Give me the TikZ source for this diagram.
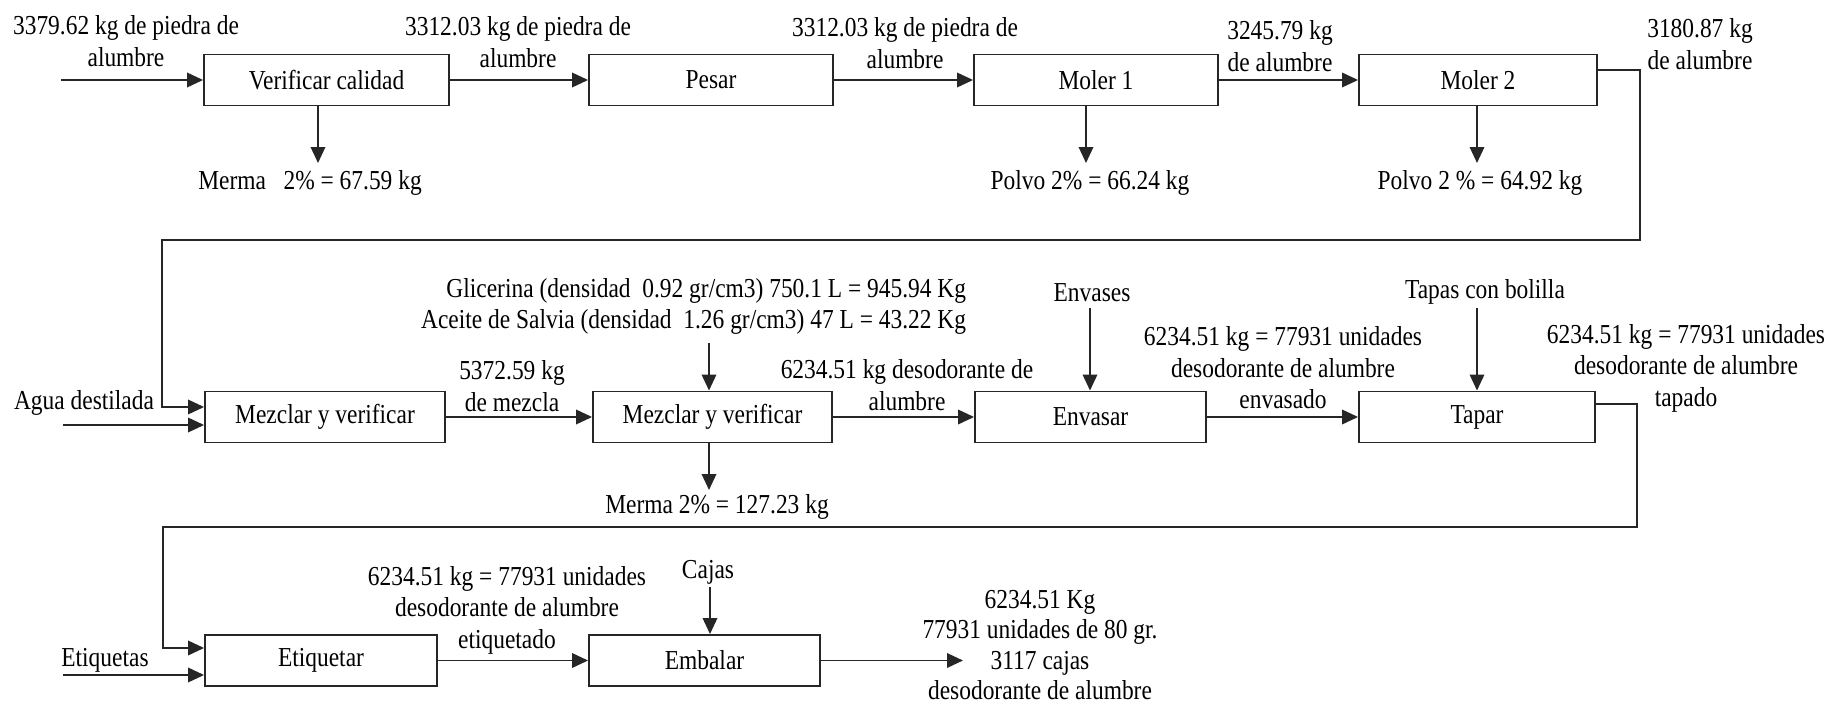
\documentclass[tikz,border=0pt]{standalone}
\usepackage{fontspec}
\setmainfont{Liberation Serif}[FakeStretch=0.855]
\usetikzlibrary{arrows.meta}

\begin{document}
\begin{tikzpicture}[x=0.02cm,y=-0.02cm,line width=1.1pt,draw=black!85,
	font=\fontsize{15.6}{17.9}\selectfont,
	proceso/.style={draw,minimum height=1.02cm,inner sep=0pt},
	flecha/.style={-{Triangle[length=0.32cm,width=0.29cm]}},
	texto/.style={align=center,inner sep=0pt}]
	\useasboundingbox (0,0) rectangle (1840,706);
	% fila 1
	\node[proceso,minimum width=4.9cm] (verif) at (326.5,80) {Verificar calidad};
	\node[proceso,minimum width=4.88cm] (pesar) at (711,80) {Pesar};
	\node[proceso,minimum width=4.88cm] (moler1) at (1096,80) {Moler 1};
	\node[proceso,minimum width=4.76cm] (moler2) at (1478,80) {Moler 2};
	\node[texto] (e1) at (126,41) {3379.62 kg de piedra de\\alumbre};
	\node[texto] (e2) at (518,42) {3312.03 kg de piedra de\\alumbre};
	\node[texto] (e3) at (905,43) {3312.03 kg de piedra de\\alumbre};
	\node[texto] (e4) at (1280,46) {3245.79 kg\\de alumbre};
	\node[texto] (e5) at (1700,44) {3180.87 kg\\de alumbre};
	\node[texto] (merma1) at (310,183) {Merma\ \ \ 2\% = 67.59 kg};
	\node[texto] (polvo1) at (1090,183) {Polvo 2\% = 66.24 kg};
	\node[texto] (polvo2) at (1480,183) {Polvo 2 \% = 64.92 kg};
	\coordinate (in1) at (61,80);
	\coordinate (m1) at (318,163);
	\coordinate (p1) at (1086,163);
	\coordinate (p2) at (1477,163);
	\draw[flecha] (in1)--(verif.west);
	\draw[flecha] (verif)--(pesar);
	\draw[flecha] (pesar)--(moler1);
	\draw[flecha] (moler1)--(moler2);
	\draw[flecha] (verif.south -| m1)--(m1);
	\draw[flecha] (moler1.south -| p1)--(p1);
	\draw[flecha] (moler2.south -| p2)--(p2);
	% fila 2
	\node[proceso,minimum width=4.8cm] (mezcla1) at (325,417) {Mezclar y verificar};
	\node[proceso,minimum width=4.78cm] (mezcla2) at (712.5,417) {Mezclar y verificar};
	\node[proceso,minimum width=4.62cm] (envasar) at (1090.5,417) {Envasar};
	\node[proceso,minimum width=4.72cm] (tapar) at (1477,417) {Tapar};
	\node[texto] (agua) at (84,403) {Agua destilada};
	\node[texto] (e6) at (512,386) {5372.59 kg\\de mezcla};
	\node[texto,align=right,anchor=east] (aditivos) at (967,306.5) {Glicerina (densidad\ \ 0.92 gr/cm3) 750.1 L = 945.94 Kg\\Aceite de Salvia (densidad\ \ 1.26 gr/cm3) 47 L = 43.22 Kg};
	\node[texto] (e7) at (907,385) {6234.51 kg desodorante de\\alumbre};
	\node[texto] (envases) at (1092,293) {Envases};
	\node[texto] (e8) at (1283,368) {6234.51 kg = 77931 unidades\\desodorante de alumbre\\envasado};
	\node[texto] (tapas) at (1485,292) {Tapas con bolilla};
	\node[texto] (e9) at (1686,368) {6234.51 kg = 77931 unidades\\desodorante de alumbre\\tapado};
	\node[texto] (merma2) at (717,507) {Merma 2\% = 127.23 kg};
	\coordinate (g1) at (1640,240);
	\coordinate (g2) at (162,240);
	\coordinate (in2) at (63,425);
	\coordinate (a1) at (709,343);
	\coordinate (m2) at (709,490);
	\coordinate (b1) at (1090,308);
	\coordinate (b2) at (1477,308);
	\draw[flecha] ([yshift=0.2cm]moler2.east) -| (g1)--(g2) |- ([yshift=0.2cm]mezcla1.west);
	\draw[flecha] (in2)--(in2 -| mezcla1.west);
	\draw[flecha] (mezcla1)--(mezcla2);
	\draw[flecha] (mezcla2)--(envasar);
	\draw[flecha] (envasar)--(tapar);
	\draw[flecha] (a1)--(a1 |- mezcla2.north);
	\draw[flecha] (mezcla2.south -| m2)--(m2);
	\draw[flecha] (b1)--(b1 |- envasar.north);
	\draw[flecha] (b2)--(b2 |- tapar.north);
	% fila 3
	\node[proceso,minimum width=4.64cm] (etiq) at (321,660.5) {Etiquetar};
	\node[proceso,minimum width=4.62cm] (embalar) at (704.5,660.5) {Embalar};
	\node[texto] (etiquetas) at (105,660) {Etiquetas};
	\node[texto] (e10) at (507,610) {6234.51 kg = 77931 unidades\\desodorante de alumbre\\etiquetado};
	\node[texto] (cajas) at (708,572) {Cajas};
	\node[texto,font=\fontsize{15.6}{17.3}\selectfont] (final) at (1040,645) {6234.51 Kg\\77931 unidades de 80 gr.\\3117 cajas\\desodorante de alumbre};
	\coordinate (g3) at (1637,527);
	\coordinate (g4) at (163,527);
	\coordinate (in3) at (63,675);
	\coordinate (c1) at (710,587);
	\coordinate (out) at (963,660.5);
	\draw[flecha] ([yshift=0.26cm]tapar.east) -| (g3)--(g4) |- ([yshift=0.25cm]etiq.west);
	\draw[flecha] (in3)--(in3 -| etiq.west);
	\draw[flecha] (etiq)--(embalar);
	\draw[flecha] (c1)--(c1 |- embalar.north);
	\draw[flecha] (embalar)--(out);
\end{tikzpicture}
\end{document}
